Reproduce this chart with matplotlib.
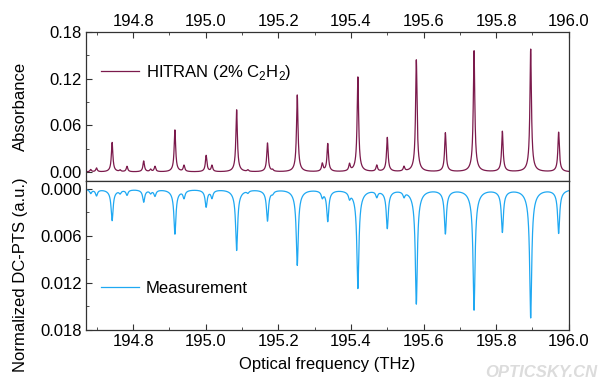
import numpy as np
import matplotlib.pyplot as plt
from matplotlib.ticker import MultipleLocator

plt.rcParams['font.family'] = ['Liberation Sans', 'DejaVu Sans']
plt.rcParams['mathtext.fontset'] = 'custom'
plt.rcParams['mathtext.rm'] = 'Liberation Sans'

# line centres (THz)
line_centres = [194.683, 194.699, 194.742, 194.764, 194.783, 194.829, 194.848,
                194.860, 194.915, 194.940, 195.001, 195.017, 195.085, 195.116,
                195.170, 195.184, 195.252, 195.321, 195.336, 195.396, 195.419,
                195.471, 195.500, 195.546, 195.580, 195.660, 195.739, 195.817,
                195.895, 195.972]
# HITRAN peak absorbance
hitran_peaks = [0.003, 0.005, 0.038, 0.002, 0.007, 0.014, 0.003,
                0.007, 0.054, 0.008, 0.021, 0.008, 0.080, 0.002,
                0.037, 0.002, 0.099, 0.010, 0.036, 0.009, 0.122,
                0.008, 0.044, 0.006, 0.144, 0.050, 0.156, 0.052,
                0.158, 0.051]
# measured DC-PTS dip depth
meas_peaks = [0.0005, 0.0008, 0.0040, 0.0004, 0.0007, 0.0016, 0.0004,
              0.0008, 0.0057, 0.0010, 0.0022, 0.0010, 0.0078, 0.0003,
              0.0040, 0.0003, 0.0097, 0.0008, 0.0040, 0.0008, 0.0126,
              0.0008, 0.0049, 0.0007, 0.0146, 0.0056, 0.0154, 0.0054,
              0.0164, 0.0056]

freq = np.linspace(194.64, 196.02, 6000)


def spectrum(heights, w_core, w_wing, wing_frac):
    out = np.zeros_like(freq)
    for c, h in zip(line_centres, heights):
        core = 1 / (1 + ((freq - c) / w_core) ** 2)
        wing = 1 / (1 + ((freq - c) / w_wing) ** 2)
        out += h * ((1 - wing_frac) * core + wing_frac * wing)
    return out


absorb = spectrum(hitran_peaks, 0.0024, 0.009, 0.06)
dcpts = spectrum(meas_peaks, 0.0032, 0.014, 0.10)

fs = 12
fig = plt.figure(figsize=(6, 3.88), dpi=100)
gs = fig.add_gridspec(2, 1, left=0.1433, right=0.948, top=0.9175,
                      bottom=0.1495, hspace=0)
ax1 = fig.add_subplot(gs[0])
ax2 = fig.add_subplot(gs[1], sharex=ax1)

ax1.plot(freq, absorb, color='#7B1A4C', lw=0.9, label=r'HITRAN (2% C$_2$H$_2$)')
ax2.plot(freq, dcpts, color='#1FA8F2', lw=0.9, label='Measurement')

ax1.set_xlim(194.67, 196.0)
ax1.set_ylim(-0.0115, 0.18)
ax2.set_ylim(0.018, -0.001)

ax1.xaxis.set_major_locator(MultipleLocator(0.2))
ax1.xaxis.set_minor_locator(MultipleLocator(0.1))
ax1.yaxis.set_major_locator(MultipleLocator(0.06))
ax1.yaxis.set_minor_locator(MultipleLocator(0.03))
ax2.yaxis.set_major_locator(MultipleLocator(0.006))
ax2.yaxis.set_minor_locator(MultipleLocator(0.003))
ax1.yaxis.set_major_formatter(plt.FormatStrFormatter('%.2f'))
ax2.yaxis.set_major_formatter(plt.FormatStrFormatter('%.3f'))
ax1.xaxis.set_major_formatter(plt.FormatStrFormatter('%.1f'))

for ax in (ax1, ax2):
    for s in ax.spines.values():
        s.set_color('#333333')
        s.set_linewidth(0.9)
    ax.tick_params(which='both', direction='in', labelsize=fs, colors='#333333',
                   labelcolor='black', right=False, pad=3)
    ax.tick_params(which='major', length=4)
    ax.tick_params(which='minor', length=2.5)

ax1.tick_params(axis='x', which='both', top=True, bottom=False,
                labeltop=True, labelbottom=False, pad=2)
ax2.tick_params(axis='x', which='both', top=False, bottom=True)

ax1.set_ylabel('Absorbance', fontsize=fs)
ax2.set_ylabel('Normalized DC-PTS (a.u.)', fontsize=fs)
ax1.yaxis.set_label_coords(-0.12, 0.5)
ax2.yaxis.set_label_coords(-0.12, 0.37)
ax2.set_xlabel('Optical frequency (THz)', fontsize=fs, labelpad=6)

ax1.legend(loc='center left', bbox_to_anchor=(0.0, 0.73), frameon=False,
           fontsize=fs, handlelength=2.3, handletextpad=0.4)
ax2.legend(loc='center left', bbox_to_anchor=(0.0, 0.28), frameon=False,
           fontsize=fs, handlelength=2.3, handletextpad=0.4)

fig.text(0.995, 0.04, 'OPTICSKY.CN', ha='right', va='center', fontsize=12,
         style='italic', weight='bold', color='#dcdcdc')

fig.savefig('out.png', dpi=100)
